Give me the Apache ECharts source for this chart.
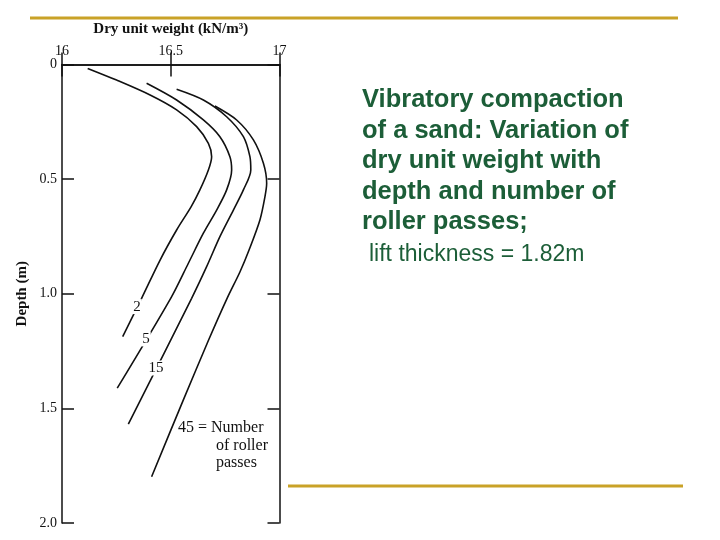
<!DOCTYPE html>
<html>
<head>
    <meta charset="UTF-8">
    <title>Vibratory compaction</title>
    <style>
        html, body { margin: 0; padding: 0; background: #fff; }
        #main { width: 720px; height: 540px; }
    </style>
    <script src="https://cdn.jsdelivr.net/npm/echarts@6/dist/echarts.min.js"></script>
</head>
<body>
<div id="main"></div>
<script type="text/javascript">
    // dry unit weight (kN/m3) vs depth (m), one array per number of roller passes
    var pass2 = [[16.118,0.017],[16.251,0.068],[16.405,0.133],[16.527,0.198],[16.619,0.271],[16.673,0.344],
        [16.688,0.402],[16.673,0.460],[16.634,0.547],[16.594,0.620],[16.527,0.722],[16.451,0.853],
        [16.366,1.020],[16.279,1.187]];
    var pass5 = [[16.389,0.082],[16.527,0.155],[16.650,0.242],[16.726,0.315],[16.772,0.402],[16.780,0.460],
        [16.757,0.547],[16.711,0.635],[16.650,0.736],[16.581,0.867],[16.501,1.018],[16.254,1.412]];
    var pass15 = [[16.527,0.108],[16.650,0.155],[16.757,0.228],[16.834,0.315],[16.864,0.402],[16.868,0.460],
        [16.834,0.547],[16.788,0.635],[16.726,0.751],[16.665,0.882],[16.596,1.020],[16.305,1.569]];
    var pass45 = [[16.703,0.181],[16.803,0.242],[16.880,0.329],[16.926,0.431],[16.941,0.518],[16.933,0.577],
        [16.910,0.678],[16.860,0.809],[16.818,0.905],[16.759,1.020],[16.674,1.202],[16.558,1.463],
        [16.412,1.798]];
    var passNames = ['2', '5', '15', '45'];
    // where the pass numbers sit on the curves
    var labelAt = [[16.345,1.056],[16.386,1.197],[16.432,1.324],null];

    var titleLines = ['Vibratory compaction', 'of a sand: Variation of', 'dry unit weight with',
        'depth and number of', 'roller passes;'];
    var noteLine = 'lift thickness = 1.82m';

    var serif = '"Liberation Serif", "DejaVu Serif", serif';
    var green = '#1c5e38';
    var gold = '#c9a227';

    var curves = [pass2, pass5, pass15, pass45];
    var series = curves.map(function (d, i) {
        var s = {
            name: passNames[i],
            type: 'line',
            data: d,
            smooth: 0.3,
            symbol: 'none',
            lineStyle: { color: '#111', width: 1.6 }
        };
        if (labelAt[i]) {
            s.markPoint = {
                symbol: 'rect',
                symbolSize: 1,
                itemStyle: { color: 'rgba(0,0,0,0)' },
                label: {
                    show: true, position: 'inside', formatter: passNames[i],
                    color: '#111', fontFamily: serif, fontSize: 15,
                    backgroundColor: '#fff', padding: [0, 1]
                },
                data: [{ coord: labelAt[i] }]
            };
        }
        return s;
    });

    var graphics = [
        { type: 'rect', shape: { x: 30, y: 16.5, width: 648, height: 3 }, style: { fill: gold } },
        { type: 'rect', shape: { x: 288, y: 484.5, width: 395, height: 3 }, style: { fill: gold } },
        { type: 'text', left: 178, top: 420, style: { text: '45 = Number', font: '16px ' + serif, fill: '#111' } },
        { type: 'text', left: 216, top: 437, style: { text: 'of roller\npasses', font: '16px ' + serif, fill: '#111', lineHeight: 17.5 } },
        { type: 'text', left: 362, top: 85,
          style: { text: titleLines.join('\n'), font: 'bold 25.5px "Liberation Sans", Arial, sans-serif',
                   fill: green, lineHeight: 30.5 } },
        { type: 'text', left: 369, top: 243,
          style: { text: noteLine, font: '23px "Liberation Sans", Arial, sans-serif', fill: green } }
    ];

    var myChart = echarts.init(document.getElementById('main'));
    var option = {
        animation: false,
        backgroundColor: '#fff',
        grid: { left: 62, right: 440.5, top: 64.5, bottom: 17 },
        xAxis: [{
            type: 'value', position: 'top', min: 16, max: 17, interval: 0.5,
            name: 'Dry unit weight (kN/m³)', nameLocation: 'middle', nameGap: 28,
            nameTextStyle: { fontFamily: serif, fontSize: 15, fontWeight: 'bold', color: '#111' },
            axisLine: { lineStyle: { color: '#111', width: 1.5 } },
            axisTick: { inside: true, length: 12, lineStyle: { color: '#111', width: 1.5 } },
            axisLabel: { fontFamily: serif, fontSize: 14, color: '#111', margin: 6 },
            splitLine: { show: false }
        }, {
            type: 'value', position: 'bottom', min: 16, max: 17, interval: 0.5,
            axisLine: { lineStyle: { color: '#111', width: 1.5 } },
            axisTick: { inside: true, length: 12, lineStyle: { color: '#111', width: 1.5 } },
            axisLabel: { show: false },
            splitLine: { show: false }
        }],
        yAxis: [{
            type: 'value', inverse: true, min: 0, max: 2, interval: 0.5,
            name: 'Depth (m)', nameLocation: 'middle', nameGap: 32, nameRotate: 90,
            nameTextStyle: { fontFamily: serif, fontSize: 15, fontWeight: 'bold', color: '#111' },
            axisLine: { lineStyle: { color: '#111', width: 1.5 } },
            axisTick: { inside: true, length: 12, lineStyle: { color: '#111', width: 1.5 } },
            axisLabel: {
                fontFamily: serif, fontSize: 14, color: '#111', margin: 5,
                formatter: function (v) { return v === 0 ? '0' : v.toFixed(1); }
            },
            splitLine: { show: false }
        }, {
            type: 'value', position: 'right', inverse: true, min: 0, max: 2, interval: 0.5,
            axisLine: { lineStyle: { color: '#111', width: 1.5 } },
            axisTick: { inside: true, length: 12, lineStyle: { color: '#111', width: 1.5 } },
            axisLabel: { show: false },
            splitLine: { show: false }
        }],
        series: series,
        graphic: graphics
    };
    myChart.setOption(option);
</script>
</body>
</html>
